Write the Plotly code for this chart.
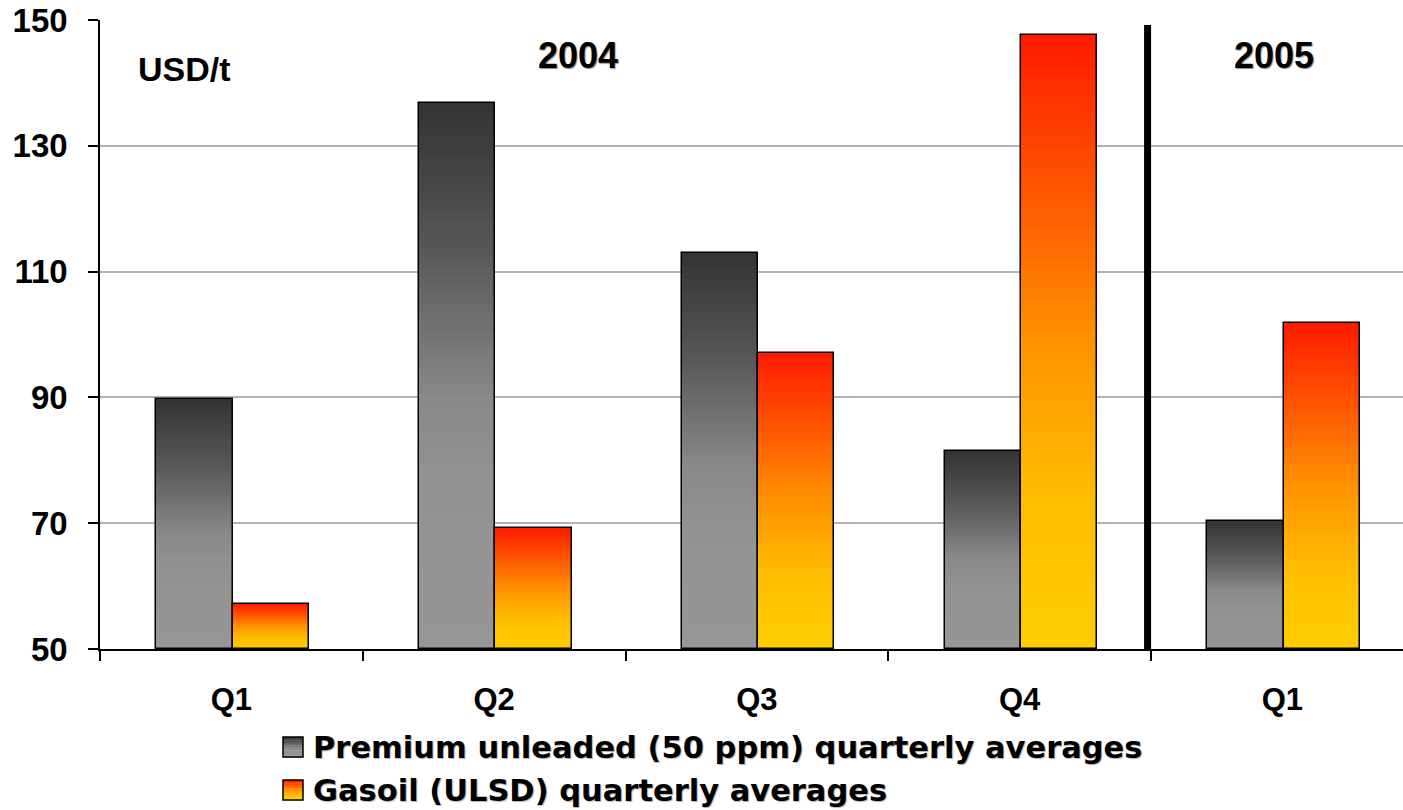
import plotly.graph_objects as go
import plotly.colors as pc

# Quarterly averages, USD/t
quarters = ["Q1", "Q2", "Q3", "Q4", "Q1"]
premium_unleaded = [89.8, 136.8, 113.0, 81.5, 70.3]
gasoil_ulsd = [57.2, 69.2, 97.1, 147.6, 101.8]
series_names = ["Premium unleaded (50 ppm) quarterly averages",
                "Gasoil (ULSD) quarterly averages"]
y_ticks = [50, 70, 90, 110, 130, 150]
Y_MIN, Y_MAX = 50, 150

# Vertical gradients, position measured from the top of each bar
grey_scale = [[0.0, "#333333"], [0.25, "#555555"], [0.55, "#8a8a8a"],
              [0.7, "#939393"], [1.0, "#969696"]]
fire_scale = [[0.0, "#ff1a00"], [0.25, "#ff5500"], [0.5, "#ff9200"],
              [0.75, "#ffbc00"], [0.9, "#ffc800"], [1.0, "#ffcc00"]]

FONT = "Liberation Sans, Arial, sans-serif"
LEGEND_FONT = "DejaVu Sans, Liberation Sans, sans-serif"
N_SLICES = 60
BAR_W = 0.29
OFFSETS = [-0.285, 0.005]

# Plot area in window pixels
W, H = 1403, 810
L, T, B = 100, 20, 161
PW, PH = W - L, H - T - B


def px_x(px):
    return (px - L) / PW


def px_y(py):
    return (H - B - py) / PH


x_pos = list(range(len(quarters)))
fig = go.Figure()


def gradient_bars(values, scale, offset):
    xs, heights, colors = [], [], []
    for k in range(N_SLICES):
        frac = k / N_SLICES
        col = pc.sample_colorscale(scale, [frac + 0.5 / N_SLICES])[0]
        for xi, v in zip(x_pos, values):
            xs.append(xi)
            heights.append((v - Y_MIN) * (1 - frac))
            colors.append(col)
    fig.add_trace(go.Bar(
        x=xs, y=heights, base=Y_MIN, width=BAR_W, offset=offset,
        marker=dict(color=colors, line=dict(width=0)),
        showlegend=False, hoverinfo="skip"))


def outline_bars(values, name, offset):
    fig.add_trace(go.Bar(
        x=x_pos, y=[v - Y_MIN for v in values], base=Y_MIN,
        width=BAR_W, offset=offset, name=name,
        marker=dict(color="rgba(0,0,0,0)", line=dict(color="#000000", width=1.5)),
        showlegend=False,
        customdata=values, hovertemplate="%{customdata}<extra>" + name + "</extra>"))


gradient_bars(premium_unleaded, grey_scale, OFFSETS[0])
gradient_bars(gasoil_ulsd, fire_scale, OFFSETS[1])
outline_bars(premium_unleaded, series_names[0], OFFSETS[0])
outline_bars(gasoil_ulsd, series_names[1], OFFSETS[1])

# Separator between 2004 and 2005
fig.add_shape(type="line", xref="x", yref="y", x0=3.487, x1=3.487,
              y0=Y_MIN, y1=149.2, line=dict(color="#000000", width=7))

# Text labels inside the plot
shadow = "1px 1px 1px #8c8c8c"
fig.add_annotation(x=-0.177, y=142.2, text="<b>USD/t</b>", showarrow=False,
                   font=dict(family=FONT, size=34, color="#000000"))
fig.add_annotation(x=1.32, y=144.4, text="<b>2004</b>", showarrow=False,
                   font=dict(family=FONT, size=36, color="#000000", shadow=shadow))
fig.add_annotation(x=3.97, y=144.3, text="<b>2005</b>", showarrow=False,
                   font=dict(family=FONT, size=36, color="#000000", shadow=shadow))

# Legend drawn below the axis, with gradient swatches
legend_rows = [(747, grey_scale), (790, fire_scale)]
for (cy, scale), name in zip(legend_rows, series_names):
    sx0, sx1 = 283, 303
    sy0, sy1 = cy - 10, cy + 10
    n = 12
    for i in range(n):
        col = pc.sample_colorscale(scale, [(i + 0.5) / n])[0]
        fig.add_shape(type="rect", xref="paper", yref="paper",
                      x0=px_x(sx0), x1=px_x(sx1),
                      y0=px_y(sy0 + (sy1 - sy0) * i / n),
                      y1=px_y(sy0 + (sy1 - sy0) * (i + 1) / n + 0.4),
                      fillcolor=col, line=dict(width=0), layer="above")
    fig.add_shape(type="rect", xref="paper", yref="paper",
                  x0=px_x(sx0), x1=px_x(sx1), y0=px_y(sy0), y1=px_y(sy1),
                  fillcolor="rgba(0,0,0,0)", line=dict(color="#000000", width=1.5),
                  layer="above")
    fig.add_annotation(xref="paper", yref="paper", x=px_x(311), y=px_y(cy),
                       xanchor="left", yanchor="middle", showarrow=False,
                       text="<b>" + name + "</b>",
                       font=dict(family=LEGEND_FONT, size=30.5, color="#000000",
                                 shadow="1px 1px 1px #b0b0b0"))

fig.update_layout(
    width=W, height=H,
    margin=dict(l=L, r=0, t=T, b=B, pad=0),
    paper_bgcolor="#ffffff", plot_bgcolor="#ffffff",
    barmode="overlay", bargap=0,
    showlegend=False,
    font=dict(family=FONT, color="#000000"),
)
fig.update_xaxes(
    range=[-0.5, -0.5 + PW / 262.75],
    tickvals=x_pos, ticktext=["<b>%s</b>" % q for q in quarters],
    tickfont=dict(family=FONT, size=31, color="#000000"),
    ticks="", ticklabelstandoff=22,
    minor=dict(tickmode="linear", tick0=-0.5, dtick=1, ticks="outside",
               ticklen=10, tickwidth=1.5, tickcolor="#000000", showgrid=False),
    showline=True, linecolor="#000000", linewidth=2,
    showgrid=False, zeroline=False, fixedrange=True,
)
fig.update_yaxes(
    range=[Y_MIN, Y_MAX],
    tickvals=y_ticks, ticktext=["<b>%d</b>" % v for v in y_ticks],
    tickfont=dict(family=FONT, size=33, color="#000000"),
    ticks="outside", ticklen=10, tickwidth=1.5, tickcolor="#000000",
    ticklabelstandoff=14,
    showline=True, linecolor="#000000", linewidth=1.5,
    showgrid=True, gridcolor="#b4b4b4", gridwidth=2,
    zeroline=False, fixedrange=True,
)

fig.write_html("out.html")
